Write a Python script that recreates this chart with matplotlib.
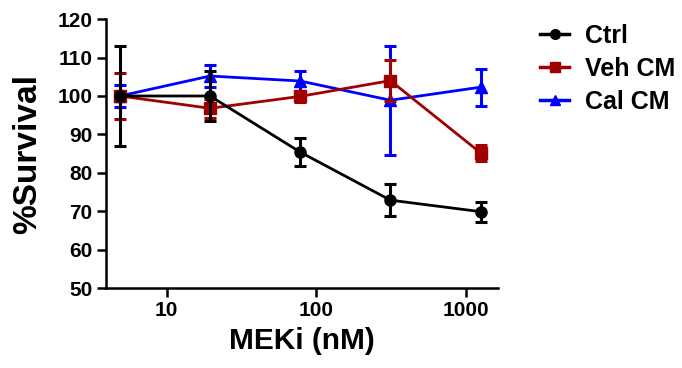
import matplotlib
matplotlib.use("Agg")
import matplotlib.pyplot as plt
from matplotlib.ticker import FixedLocator, NullLocator
from matplotlib.lines import Line2D

plt.rcParams['font.family'] = ['Liberation Sans', 'DejaVu Sans']
plt.rcParams['font.weight'] = 'bold'

conc = [4.88, 19.5, 78, 312, 1250]
ctrl = [100, 100, 85.4, 72.9, 69.9]
ctrl_err = [13, 6.5, 3.7, 4.2, 2.6]
veh = [100, 96.8, 99.9, 104.0, 85.2]
veh_err = [6, 2.5, 1.5, 5.3, 2.0]
cal = [100, 105.2, 103.9, 98.9, 102.3]
cal_err = [2.8, 2.8, 2.5, 14.2, 4.8]
series = ['Ctrl', 'Veh CM', 'Cal CM']
colors = ['black', '#A00000', '#0000FF']
markers = ['o', 's', '^']

fig = plt.figure(figsize=(6.82, 3.68), dpi=100)
ax = fig.add_axes([0.155, 0.217, 0.575, 0.731])

common = dict(lw=2, elinewidth=2.2, capsize=4.5, capthick=2.2, markersize=8)
ax.errorbar(conc, cal, yerr=cal_err, color=colors[2], marker=markers[2], zorder=2, **common)
ax.errorbar(conc, veh, yerr=veh_err, color=colors[1], marker=markers[1], zorder=3, **common)
ax.errorbar(conc, ctrl, yerr=ctrl_err, color=colors[0], marker=markers[0], zorder=4, **common)

ax.set_xscale('log')
ax.set_xlim(3.92, 1630)
ax.set_ylim(50, 120)
ax.xaxis.set_major_locator(FixedLocator([10, 100, 1000]))
ax.xaxis.set_minor_locator(NullLocator())
ax.set_xticklabels(['10', '100', '1000'])
ax.set_yticks(range(50, 121, 10))
ax.tick_params(axis='both', labelsize=15, width=1.8, length=6.5, pad=3)
for lab in ax.get_xticklabels() + ax.get_yticklabels():
    lab.set_fontweight('bold')
for s in ['top', 'right']:
    ax.spines[s].set_visible(False)
for s in ['left', 'bottom']:
    ax.spines[s].set_linewidth(1.8)

ax.set_xlabel('MEKi (nM)', fontsize=21.5, fontweight='bold', labelpad=5)
ax.set_ylabel('%Survival', fontsize=24, fontweight='bold', labelpad=10.5)

handles = [Line2D([], [], color=c, marker=m, lw=2.5, markersize=7) for c, m in zip(colors, markers)]
leg = ax.legend(handles, series,
                loc='upper left', bbox_to_anchor=(0.792, 0.936), bbox_transform=fig.transFigure,
                frameon=False, fontsize=18, handlelength=1.15, handletextpad=0.65, labelspacing=0.36,
                borderaxespad=0, borderpad=0)
for t in leg.get_texts():
    t.set_fontweight('bold')

fig.savefig('out.png', dpi=100)
